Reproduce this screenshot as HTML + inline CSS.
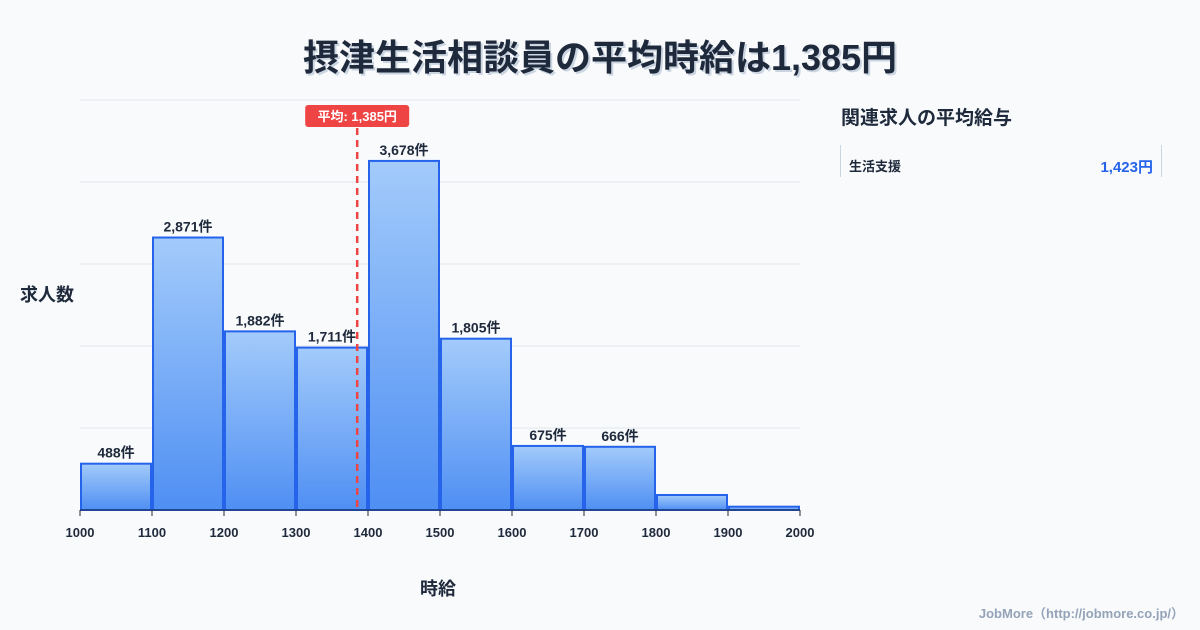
<!DOCTYPE html>
<html><head><meta charset="utf-8">
<style>
body{margin:0;width:1200px;height:630px;background:#f8fafc;font-family:"Liberation Sans","Noto Sans CJK JP",sans-serif;overflow:hidden;position:relative}
.t{position:absolute;white-space:nowrap}
</style></head><body>
<div class="t" style="left:0;width:1200px;top:29px;text-align:center;font-size:36px;font-weight:bold;color:#1e293b;text-shadow:2px 2px 0 #cbd5e1">摂津生活相談員の平均時給は1,385円</div>
<div class="t" style="left:20px;top:281px;font-size:18px;font-weight:bold;color:#1e293b">求人数</div>
<div class="t" style="left:420px;top:575px;font-size:18px;font-weight:bold;color:#1e293b">時給</div>
<div class="t" style="left:841px;top:103px;font-size:19px;font-weight:bold;color:#1e293b">関連求人の平均給与</div>
<div style="position:absolute;left:840px;top:145px;width:320px;height:32px;border-left:1px solid #cbd5e1;border-right:1px solid #cbd5e1">
<span class="t" style="left:8px;top:11px;font-size:13px;font-weight:bold;color:#1e293b">生活支援</span>
<span class="t" style="right:8px;top:11px;font-size:15px;font-weight:bold;color:#2563eb">1,423円</span>
</div>
<div class="t" style="right:16px;top:603px;font-size:13px;font-weight:bold;color:#94a3b8">JobMore（http://jobmore.co.jp/）</div>
<svg id="c" width="1200" height="630" style="position:absolute;left:0;top:0">
<defs><linearGradient id="g" x1="0" y1="0" x2="0" y2="1"><stop offset="0" stop-color="#a3cbfb"/><stop offset="1" stop-color="#4f8ff3"/></linearGradient></defs>
</svg>
<script>
const binStarts=[1000,1100,1200,1300,1400,1500,1600,1700,1800,1900];
const counts=[488,2871,1882,1711,3678,1805,675,666,158,35];
const labels=["488件","2,871件","1,882件","1,711件","3,678件","1,805件","675件","666件","",""];
const xTicks=[1000,1100,1200,1300,1400,1500,1600,1700,1800,1900,2000];
const avgWage=1385;
const avgLabel="平均: 1,385円";
const yMax=4320, gridCount=5;
const x=v=>80+(v-1000)*0.72;
const y=v=>510-v/yMax*410;
const svg=document.getElementById('c');
const NS='http://www.w3.org/2000/svg';
function mk(t,a){const e=document.createElementNS(NS,t);for(const k in a)e.setAttribute(k,a[k]);svg.appendChild(e);return e;}
for(let i=1;i<=gridCount;i++){
const g=mk('line',{x1:80,x2:800,y1:y(yMax*i/gridCount),y2:y(yMax*i/gridCount),stroke:'#e2e8f0'});


}
binStarts.forEach((b,i)=>{
const x0=x(b)+1,x1=x(b+100)-1,yt=y(counts[i]);
const r=mk('rect',{x:x0,y:yt,width:x1-x0,height:510-yt,fill:'url(#g)',stroke:'#2563eb','stroke-width':2});


if(labels[i]){const t=mk('text',{x:(x0+x1)/2,y:yt-6,'text-anchor':'middle','font-size':14,'font-weight':'bold',fill:'#1e293b'});t.textContent=labels[i];

}
});
const ax=mk('line',{x1:80,x2:800,y1:510,y2:510,stroke:'#1e293b'});


xTicks.forEach(v=>{
const tk=mk('line',{x1:x(v),x2:x(v),y1:510,y2:516,stroke:'#1e293b'});


const t=mk('text',{x:x(v),y:537,'text-anchor':'middle','font-size':13,'font-weight':'bold',fill:'#1e293b'});t.textContent=v;


});
const ml=mk('line',{x1:x(avgWage),x2:x(avgWage),y1:128,y2:510,stroke:'#ef4444','stroke-width':2.5,'stroke-dasharray':'7,5'});


const lb=mk('rect',{x:x(avgWage)-52,y:105,width:104,height:22,rx:3,fill:'#ef4444'});


const lt=mk('text',{x:x(avgWage),y:121,'text-anchor':'middle','font-size':13,'font-weight':'bold',fill:'#fff'});lt.textContent=avgLabel;


</script>
</body></html>
